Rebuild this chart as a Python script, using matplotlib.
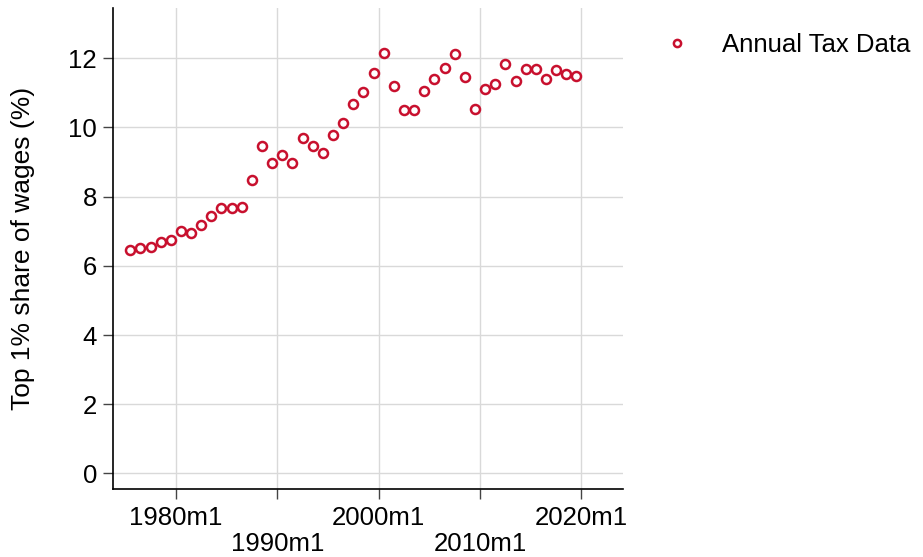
import matplotlib.pyplot as plt

plt.rcParams['font.family'] = ['Liberation Sans', 'DejaVu Sans']

# Annual observations, plotted at mid-year
years = list(range(1975, 2020))
top1_share = [6.47, 6.50, 6.55, 6.70, 6.76, 7.00, 6.96, 7.19, 7.44, 7.68,
              7.68, 7.69, 8.47, 9.45, 8.97, 9.21, 8.96, 9.69, 9.45, 9.27,
              9.77, 10.12, 10.69, 11.03, 11.58, 12.16, 11.20, 10.51, 10.49, 11.04,
              11.40, 11.73, 12.11, 11.46, 10.53, 11.10, 11.26, 11.84, 11.35, 11.70,
              11.70, 11.40, 11.66, 11.53, 11.49]

xticks = [1980, 1990, 2000, 2010, 2020]
xtick_labels = ['1980m1', '\n1990m1', '2000m1', '\n2010m1', '2020m1']
yticks = [0, 2, 4, 6, 8, 10, 12]

red = '#C8102E'

fig = plt.figure(figsize=(9.23, 5.57), dpi=100)
ax = fig.add_axes([113/923, 68/557, 510/923, 481/557])

x = [y + 0.5 for y in years]
ax.plot(x, top1_share, linestyle='none', marker='o', ms=6.5,
        mfc='white', mec=red, mew=1.8, label='Annual Tax Data', zorder=3)

ax.set_xlim(1973.8, 2024.1)
ax.set_ylim(-0.45, 13.45)
ax.set_xticks(xticks)
ax.set_xticklabels(xtick_labels)
ax.set_yticks(yticks)
ax.tick_params(axis='both', labelsize=18.5, length=7.5, width=1, direction='out',
               color='#444444')
ax.tick_params(axis='x', pad=4.5)
ax.tick_params(axis='y', pad=4)
for lbl in ax.get_xticklabels():
    lbl.set_linespacing(1.12)
ax.grid(True, color='#d9d9d9', linewidth=1)
ax.set_axisbelow(True)

for side in ['top', 'right']:
    ax.spines[side].set_visible(False)
for side in ['left', 'bottom']:
    ax.spines[side].set_linewidth(1.2)

ax.set_ylabel('Top 1% share of wages (%)', fontsize=19)
ax.yaxis.set_label_coords(-0.152, 0.5)

ax.legend(loc='center left', bbox_to_anchor=(1.030, 0.923), frameon=False,
          fontsize=18.5, handletextpad=0.75, markerscale=0.8, borderpad=0)

fig.savefig('out.png', dpi=100)
